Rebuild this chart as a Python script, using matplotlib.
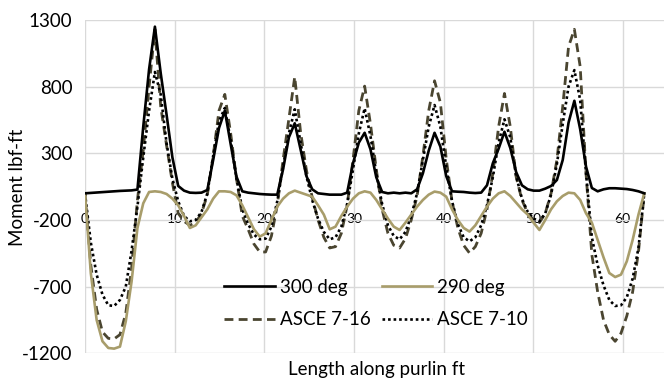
import matplotlib
matplotlib.use("Agg")
import matplotlib.pyplot as plt

# ---------------- data ----------------
x_ft = [0, 0.65, 1.3, 1.95, 2.6, 3.25, 3.9, 4.55, 5.2, 5.85, 6.5, 7.15,
        7.8, 8.45, 9.1, 9.75, 10.4, 11.05, 11.7, 12.35, 13.0, 13.65, 14.3, 14.95,
        15.6, 16.25, 16.9, 17.55, 18.2, 18.85, 19.5, 20.15, 20.8, 21.45, 22.1, 22.75,
        23.4, 24.05, 24.7, 25.35, 26.0, 26.65, 27.3, 27.95, 28.6, 29.25, 29.9, 30.55,
        31.2, 31.85, 32.5, 33.15, 33.8, 34.45, 35.1, 35.75, 36.4, 37.05, 37.7, 38.35,
        39.0, 39.65, 40.3, 40.95, 41.6, 42.25, 42.9, 43.55, 44.2, 44.85, 45.5, 46.15,
        46.8, 47.45, 48.1, 48.75, 49.4, 50.05, 50.7, 51.35, 52.0, 52.65, 53.3, 53.95,
        54.6, 55.25, 55.9, 56.55, 57.2, 57.85, 58.5, 59.15, 59.8, 60.45, 61.1, 61.75,
        62.4]

m_300 = [0, 3, 6, 9, 12, 15, 18, 20, 22, 28, 500, 930,
         1250, 900, 590, 270, 55, 20, 5, 3, 5, 25, 250, 490,
         620, 370, 125, 15, 5, 0, -5, -8, -10, -10, 180, 420,
         525, 330, 130, 30, 0, -5, -10, -10, -10, 5, 225, 380,
         454, 330, 120, 10, 0, 5, 0, 5, 0, 30, 150, 320,
         454, 350, 130, 15, 12, 10, 5, 2, 5, 60, 225, 335,
         462, 340, 160, 60, 30, 20, 20, 35, 55, 100, 250, 530,
         694, 480, 200, 40, 15, 30, 38, 38, 35, 32, 25, 15,
         0]

m_290 = [0, -600, -950, -1110, -1160, -1165, -1150, -960, -660, -260, -75, 10,
         15, 10, -5, -40, -90, -170, -260, -240, -180, -120, -40, 15,
         15, 10, -15, -90, -180, -270, -325, -300, -200, -100, -40, 0,
         20, 5, -10, -25, -90, -160, -270, -250, -170, -100, -40, 0,
         15, 5, -50, -120, -190, -250, -275, -220, -160, -100, -50, -10,
         13, 5, -25, -120, -200, -260, -287, -240, -170, -100, -40, 0,
         15, -20, -70, -120, -160, -220, -275, -200, -120, -60, -20, 5,
         0, -50, -150, -220, -350, -480, -598, -628, -610, -510, -350, -160,
         0]

m_asce716 = [0, -540, -870, -1040, -1088, -1092, -1060, -900, -560, -50, 325, 800,
             1230, 650, 360, 80, -150, -210, -240, -220, -150, -10, 280, 620,
             742, 450, 110, -170, -270, -380, -440, -440, -320, -90, 250, 560,
             873, 460, 175, -30, -200, -330, -410, -400, -300, -90, 250, 620,
             804, 520, 180, -120, -300, -390, -410, -340, -200, -20, 280, 620,
             844, 680, 260, -60, -260, -390, -448, -400, -300, -120, 150, 500,
             749, 500, 125, -50, -150, -200, -220, -150, 0, 250, 650, 1100,
             1230, 950, 150, -460, -740, -950, -1060, -1110, -1050, -920, -740, -440,
             0]

m_asce710 = [0, -370, -610, -760, -840, -845, -800, -700, -430, -100, 270, 620,
             910, 740, 375, 110, -60, -170, -210, -200, -140, 0, 280, 540,
             640, 400, 110, -120, -230, -310, -345, -340, -250, -60, 200, 450,
             630, 380, 130, -50, -190, -290, -345, -330, -250, -80, 180, 450,
             637, 430, 150, -80, -240, -320, -345, -290, -170, 0, 250, 500,
             662, 500, 200, -60, -230, -330, -360, -330, -240, -90, 120, 380,
             555, 420, 130, -40, -140, -190, -210, -150, -10, 220, 520, 800,
             924, 700, 150, -330, -540, -690, -800, -845, -840, -780, -640, -410,
             0]

x_ticks = [0, 10, 20, 30, 40, 50, 60]
y_ticks = [-1200, -700, -200, 300, 800, 1300]
labels = ['300 deg', '290 deg', 'ASCE 7-16', 'ASCE 7-10']

# ---------------- figure ----------------
plt.rcParams['font.family'] = ['Lato', 'DejaVu Sans']
FS = 13.5

fig = plt.figure(figsize=(6.64, 3.84), dpi=100)
ax = fig.add_axes([85 / 664, 1 - 353.3 / 384, 1 - 85 / 664, (353.3 - 20) / 384])

ax.plot(x_ft, m_300, color='black', lw=1.9, label=labels[0], zorder=5)
ax.plot(x_ft, m_290, color='#A89D6B', lw=1.9, label=labels[1], zorder=4)
ax.plot(x_ft, m_asce716, color='#4A4530', lw=2.0, linestyle=(0, (3.2, 1.9)),
        label=labels[2], zorder=3)
ax.plot(x_ft, m_asce710, color='black', lw=1.9, linestyle=(0, (1, 1.1)),
        label=labels[3], zorder=3)

ax.set_xlim(0, 64.6)
ax.set_ylim(-1200, 1300)
ax.set_xticks(x_ticks)
ax.set_yticks(y_ticks)
ax.set_xticklabels([str(v) for v in x_ticks], fontsize=FS)
ax.set_yticklabels([str(v) for v in y_ticks], fontsize=FS)
ax.grid(True, color='#D9D9D9', lw=1.0)
ax.set_axisbelow(True)

for s in ['top', 'right', 'left']:
    ax.spines[s].set_visible(False)
ax.spines['bottom'].set_position(('data', 0))
ax.spines['bottom'].set_visible(False)
ax.tick_params(axis='x', length=0, pad=14, colors='black')
ax.tick_params(axis='y', length=0, pad=9, colors='black')

fig.text(18 / 664, 1 - 187 / 384, 'Moment lbf-ft', rotation=90, fontsize=FS,
         ha='center', va='center')
fig.text(376 / 664, 1 - 370 / 384, 'Length along purlin ft', fontsize=FS,
         ha='center', va='center')

h = ax.get_legend_handles_labels()[0]
order = [0, 2, 1, 3]
leg = fig.legend([h[i] for i in order], [labels[i] for i in order],
                 ncol=2, loc='center', bbox_to_anchor=(376 / 664, 1 - 303.5 / 384),
                 frameon=False, fontsize=FS, handlelength=2.7, handletextpad=0.25,
                 columnspacing=0.6, labelspacing=0.85)

fig.savefig('out.png', dpi=100)
